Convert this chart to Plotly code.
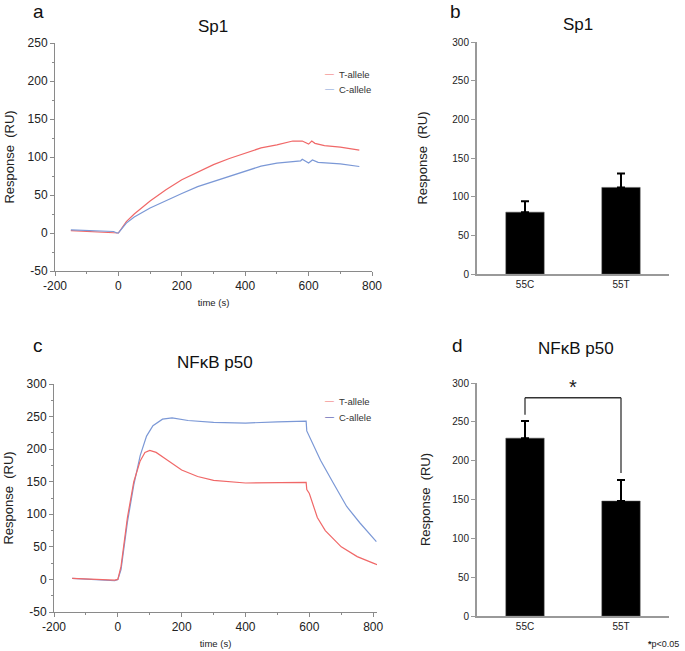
import plotly.graph_objects as go

W, H = 685, 651

# ---------------- data ----------------
# Panel a: Sp1 sensorgram
sp1_t_T = [-150, -100, -50, -10, 0, 25, 50, 100, 150, 200, 250, 300, 350, 400, 450, 500, 550, 580, 600, 610, 620, 650, 700, 760]
sp1_T = [3, 2, 1, 0.5, 0, 15, 25, 42, 57, 70, 80, 90, 98, 105, 112, 116, 121, 121, 117, 121, 118, 115, 113, 109]
sp1_t_C = [-150, -100, -50, -15, -5, 0, 25, 50, 100, 150, 200, 250, 300, 350, 400, 450, 500, 550, 575, 580, 600, 612, 630, 700, 760]
sp1_C = [4, 3, 2, 2, 0, 0, 13, 21, 33, 43, 52, 61, 68, 75, 82, 88, 92, 94, 95, 97, 92, 96, 93, 91, 87.5]

# Panel c: NFkB p50 sensorgram
nf_t_T = [-143, -100, -50, -10, 0, 10, 30, 50, 70, 85, 100, 120, 150, 200, 250, 300, 400, 500, 590, 592, 600, 625, 650, 700, 750, 800, 815]
nf_T = [1.5, 0.5, -0.5, -1, 0, 20, 95, 150, 182, 195, 198, 195, 185, 168, 158, 152, 148, 148, 149, 138, 132, 95, 75, 50, 35, 25, 22]
nf_t_C = [-143, -100, -50, -10, 0, 10, 30, 50, 70, 90, 110, 140, 170, 220, 300, 400, 500, 590, 592, 600, 635, 675, 717, 758, 810]
nf_C = [1.5, 0.5, -1, -2, 0, 15, 88, 145, 190, 220, 236, 246, 248, 244, 241, 240, 242, 243, 228, 220, 183, 148, 112, 87, 58]

# Panels b, d: bar charts
categories = ["55C", "55T"]
sp1_bar = [80, 112]
sp1_err = [14, 18]
nf_bar = [229, 148]
nf_err = [22, 27]

# tick labels (plain hyphen minus as in the reference)
time_ticks = [-200, 0, 200, 400, 600, 800]
time_minor = [-100, 100, 300, 500, 700]
sp1_yticks = [-50, 0, 50, 100, 150, 200, 250]
nf_yticks = [-50, 0, 50, 100, 150, 200, 250, 300]

def lab(vals):
    return [str(v) for v in vals]

# ---------------- layout helpers ----------------
def xd(px0, px1):
    return [px0 / W, px1 / W]

def yd(px_bottom, px_top):
    return [1 - px_bottom / H, 1 - px_top / H]

FONT = "Liberation Sans, Arial, Helvetica, sans-serif"
RED = "#f06868"
BLUE = "#7b98d6"
AXC = "#8a8a8a"

fig = go.Figure()

# Sensorgram traces
fig.add_trace(go.Scatter(x=sp1_t_T, y=sp1_T, mode="lines", line=dict(color=RED, width=1.2),
                         name="T-allele", xaxis="x", yaxis="y", showlegend=False))
fig.add_trace(go.Scatter(x=sp1_t_C, y=sp1_C, mode="lines", line=dict(color=BLUE, width=1.2),
                         name="C-allele", xaxis="x", yaxis="y", showlegend=False))
fig.add_trace(go.Scatter(x=nf_t_C, y=nf_C, mode="lines", line=dict(color=BLUE, width=1.2),
                         name="C-allele", xaxis="x3", yaxis="y3", showlegend=False))
fig.add_trace(go.Scatter(x=nf_t_T, y=nf_T, mode="lines", line=dict(color=RED, width=1.2),
                         name="T-allele", xaxis="x3", yaxis="y3", showlegend=False))

# Bars
bar_style = dict(marker=dict(color="black", line=dict(color="#555", width=0.5)), width=0.4, showlegend=False)
err_style = dict(type="data", symmetric=False, arrayminus=[0, 0], color="black", thickness=2, width=4)
fig.add_trace(go.Bar(x=categories, y=sp1_bar, error_y=dict(array=sp1_err, **err_style),
                     xaxis="x2", yaxis="y2", **bar_style))
fig.add_trace(go.Bar(x=categories, y=nf_bar, error_y=dict(array=nf_err, **err_style),
                     xaxis="x4", yaxis="y4", **bar_style))

tickfont = dict(family=FONT, size=12, color="#222")
line_axis = dict(showline=True, linecolor=AXC, linewidth=1, ticks="outside", ticklen=4, tickcolor=AXC,
                 showgrid=False, zeroline=False, tickfont=tickfont, automargin=False)
minor_t = dict(ticklen=2, tickcolor=AXC, ticks="outside")
ytitle = dict(text="Response\u00a0 (RU)", font=dict(size=13, family=FONT, color="#222"))
bar_axis = dict(showline=True, linecolor="#999", linewidth=2, showgrid=False, zeroline=False,
                tickfont=dict(family=FONT, size=10, color="#222"), automargin=False)

fig.update_layout(
    width=W, height=H, margin=dict(l=0, r=0, t=0, b=0),
    paper_bgcolor="white", plot_bgcolor="white",
    font=dict(family=FONT, color="#222"),
    xaxis=dict(domain=xd(55, 372), range=[-200, 800], tickvals=time_ticks, ticktext=lab(time_ticks), anchor="y",
               minor=dict(tickvals=time_minor, **minor_t),
               title=dict(text="time (s)", font=dict(size=9.5, family=FONT), standoff=6),
               **line_axis),
    yaxis=dict(domain=yd(271, 43), range=[-50, 250], tickvals=sp1_yticks, ticktext=lab(sp1_yticks), anchor="x",
               minor=dict(dtick=25, **minor_t), title=dict(standoff=10, **ytitle), **line_axis),
    xaxis3=dict(domain=xd(54, 377), range=[-200, 812], tickvals=time_ticks, ticktext=lab(time_ticks), anchor="y3",
                minor=dict(tickvals=time_minor, **minor_t),
                title=dict(text="time (s)", font=dict(size=9.5, family=FONT), standoff=6),
                **line_axis),
    yaxis3=dict(domain=yd(612, 384), range=[-50, 300], tickvals=nf_yticks, ticktext=lab(nf_yticks), anchor="x3",
                minor=dict(dtick=25, **minor_t), title=dict(standoff=10, **ytitle), **line_axis),
    xaxis2=dict(domain=xd(477, 669), range=[-0.5, 1.5], anchor="y2", ticks="", **bar_axis),
    yaxis2=dict(domain=yd(274, 42), range=[0, 300], dtick=50, anchor="x2", ticks="outside", ticklen=4,
                tickcolor="#999", title=dict(standoff=22, **ytitle), **bar_axis),
    xaxis4=dict(domain=xd(477, 669), range=[-0.5, 1.5], anchor="y4", ticks="", **bar_axis),
    yaxis4=dict(domain=yd(616, 383), range=[0, 300], dtick=50, anchor="x4", ticks="outside", ticklen=4,
                tickcolor="#999", title=dict(standoff=19, **ytitle), **bar_axis),
)

def pa(px, py, text, size, xanchor="center", color="#111"):
    fig.add_annotation(x=px / W, y=1 - py / H, xref="paper", yref="paper", text=text, showarrow=False,
                       xanchor=xanchor, yanchor="middle",
                       font=dict(family=FONT, size=size, color=color))

# Panel letters and titles
pa(38, 11, "a", 19)
pa(455, 11, "b", 19)
pa(38, 345, "c", 19)
pa(457, 345, "d", 19)
pa(213, 26, "Sp1", 17)
pa(578, 25, "Sp1", 17)
pa(215, 362, "NFκB p50", 17)
pa(576, 348, "NFκB p50", 17)

# Legends (drawn as short coloured dashes plus labels)
def legend(px, py, color, label):
    pa(px, py, "—", 9, color=color)
    pa(px + 8, py, label, 9.5, xanchor="left", color="#333")

legend(329, 74, RED, "T-allele")
legend(329, 89, BLUE, "C-allele")
legend(329, 401, RED, "T-allele")
legend(329, 417, "#1f2f9a", "C-allele")

# Significance bracket in panel d (data coordinates)
top_55C = nf_bar[0] + nf_err[0]
top_55T = nf_bar[1] + nf_err[1]
bracket_y = 281
bline = dict(color="#333", width=1.3)
fig.add_shape(type="line", xref="x4", yref="y4", x0=0, x1=1, y0=bracket_y, y1=bracket_y, line=bline)
fig.add_shape(type="line", xref="x4", yref="y4", x0=0, x1=0, y0=bracket_y, y1=top_55C + 8, line=bline)
fig.add_shape(type="line", xref="x4", yref="y4", x0=1, x1=1, y0=bracket_y, y1=top_55T + 9, line=bline)
fig.add_annotation(x=0.5, y=bracket_y, xref="x4", yref="y4", text="*", showarrow=False, yshift=11,
                   font=dict(family=FONT, size=20, color="#222"))

# footnote
pa(663, 644, "<b>*</b>p<0.05", 9, color="#222")

fig.write_html("out.html", config={"displayModeBar": False},
               post_script="document.body.style.margin='0';document.body.style.overflow='hidden';")
